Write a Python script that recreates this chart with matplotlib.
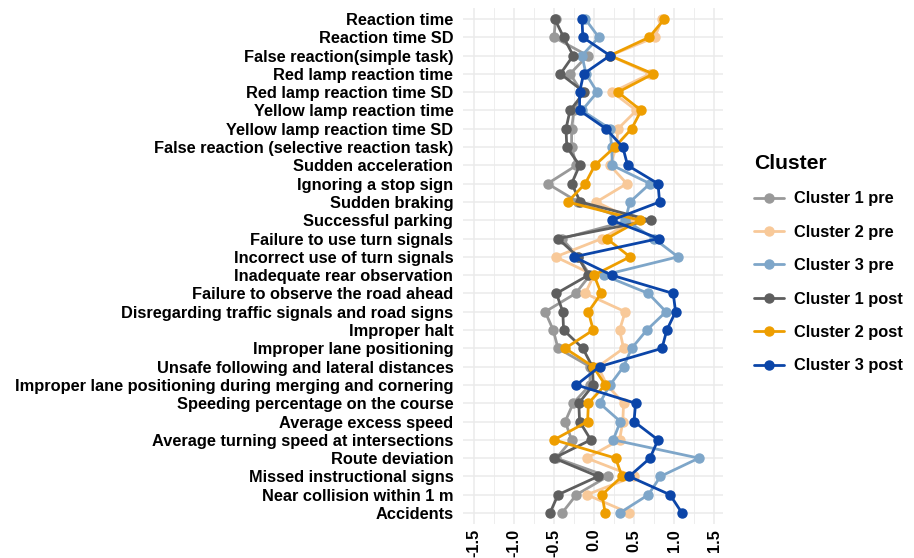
import matplotlib
matplotlib.use("Agg")
import matplotlib.pyplot as plt
from matplotlib.ticker import MultipleLocator

plt.rcParams['font.family'] = ['Liberation Sans', 'DejaVu Sans']

categories = [
    "Reaction time", "Reaction time SD", "False reaction(simple task)",
    "Red lamp reaction time", "Red lamp reaction time SD",
    "Yellow lamp reaction time", "Yellow lamp reaction time SD",
    "False reaction (selective reaction task)", "Sudden acceleration",
    "Ignoring a stop sign", "Sudden braking", "Successful parking",
    "Failure to use turn signals", "Incorrect use of turn signals",
    "Inadequate rear observation", "Failure to observe the road ahead",
    "Disregarding traffic signals and road signs", "Improper halt",
    "Improper lane positioning", "Unsafe following and lateral distances",
    "Improper lane positioning during merging and cornering",
    "Speeding percentage on the course", "Average excess speed",
    "Average turning speed at intersections", "Route deviation",
    "Missed instructional signs", "Near collision within 1 m", "Accidents",
]

c1_pre = [-0.48, -0.50, -0.08, -0.30, -0.15, -0.25, -0.28, -0.28, -0.22, -0.58,
          -0.20, 0.45, -0.40, -0.20, -0.05, -0.23, -0.61, -0.51, -0.45, -0.05,
          -0.05, -0.26, -0.36, -0.28, -0.47, 0.17, -0.22, -0.40]
c2_pre = [0.85, 0.76, 0.20, 0.70, 0.23, 0.53, 0.30, 0.28, 0.20, 0.41,
          0.03, 0.50, 0.10, -0.48, 0.00, -0.11, 0.39, 0.32, 0.37, 0.05,
          0.16, 0.37, 0.36, 0.32, -0.09, 0.50, -0.09, 0.44]
c3_pre = [-0.11, 0.06, -0.15, -0.10, 0.04, -0.15, 0.20, 0.22, 0.23, 0.70,
          0.45, 0.39, 0.75, 1.05, 0.12, 0.68, 0.90, 0.66, 0.47, 0.37,
          0.20, 0.07, 0.33, 0.24, 1.31, 0.83, 0.68, 0.32]
c1_post = [-0.49, -0.38, -0.26, -0.42, -0.12, -0.30, -0.35, -0.34, -0.18, -0.28,
           -0.17, 0.71, -0.45, -0.20, -0.07, -0.47, -0.39, -0.38, -0.14, -0.02,
           -0.01, -0.19, -0.18, -0.04, -0.50, 0.05, -0.45, -0.55]
c2_post = [0.88, 0.69, 0.20, 0.74, 0.30, 0.59, 0.47, 0.26, 0.01, -0.11,
           -0.33, 0.57, 0.16, 0.45, 0.00, 0.09, -0.07, -0.01, -0.36, -0.01,
           0.14, -0.07, -0.08, -0.50, 0.27, 0.35, 0.10, 0.14]
c3_post = [-0.15, -0.14, 0.20, -0.13, -0.18, -0.18, 0.15, 0.36, 0.42, 0.80,
           0.82, 0.22, 0.81, -0.25, 0.22, 0.99, 1.02, 0.91, 0.85, 0.07,
           -0.22, 0.52, 0.50, 0.80, 0.70, 0.44, 0.95, 1.10]

series_names = ["Cluster 1 pre", "Cluster 2 pre", "Cluster 3 pre",
                "Cluster 1 post", "Cluster 2 post", "Cluster 3 post"]
series_values = [c1_pre, c2_pre, c3_pre, c1_post, c2_post, c3_post]
colors = ["#999999", "#F8C999", "#7EA6C9", "#5E5E5E", "#EE9E00", "#0B45A8"]
x_ticks = [-1.5, -1.0, -0.5, 0.0, 0.5, 1.0, 1.5]

fig = plt.figure(figsize=(9.14, 5.58), dpi=100)
ax = fig.add_axes([463/914, 1 - 524/558, (723-463)/914, (524-8)/558])

ypos = list(range(len(categories)))
for name, vals, col in zip(series_names, series_values, colors):
    ax.plot(vals, ypos, '-o', color=col, lw=2.0, markersize=6.5, label=name,
            solid_capstyle='round', zorder=3)

ax.set_xlim(-1.6375, 1.6125)
ax.set_ylim(len(categories) - 0.4, -0.6)
ax.set_yticks(ypos)
ax.set_yticklabels(categories, fontsize=11.8, fontweight='bold')
ax.set_xticks(x_ticks)
ax.set_xticklabels([f"{v:.1f}" for v in x_ticks], rotation=90, fontsize=11.8,
                   fontweight='bold')
ax.xaxis.set_minor_locator(MultipleLocator(0.25))
ax.tick_params(axis='y', length=0, pad=7, colors='black')
ax.tick_params(axis='x', length=0, pad=3.5, colors='black')
ax.tick_params(axis='x', which='minor', length=0)
ax.grid(True, which='major', color='#EBEBEB', lw=1.1, zorder=0)
ax.grid(True, which='minor', axis='x', color='#EBEBEB', lw=0.6, zorder=0)
for s in ax.spines.values():
    s.set_visible(False)
ax.set_axisbelow(True)

leg = ax.legend(loc='upper left', bbox_to_anchor=(741/914, 1 - 141/558),
                bbox_transform=fig.transFigure, frameon=False,
                title="Cluster", prop={'weight': 'bold', 'size': 11.8},
                title_fontproperties={'weight': 'bold', 'size': 15.2},
                handlelength=1.85, labelspacing=1.12, handletextpad=0.6,
                borderpad=0.3)
leg._legend_box.align = "left"

fig.savefig("out.png", dpi=100)
